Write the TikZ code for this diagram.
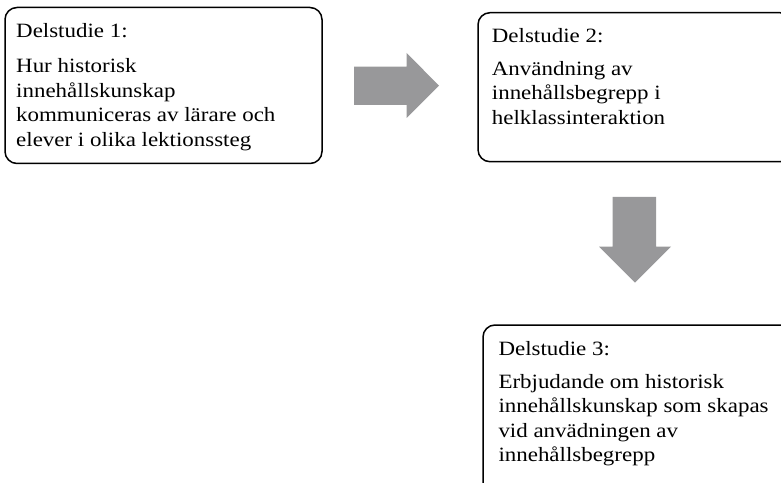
\documentclass[tikz,border=0pt]{standalone}
\usepackage{fontspec}
\setmainfont[FakeStretch=1.13]{Liberation Serif}
\definecolor{arrowgray}{RGB}{152,152,154}
\tikzset{
  studybox/.style={draw=black, line width=1.5bp, rounded corners=12bp},
  txt/.style={anchor=base west, inner sep=0pt, font=\fontsize{20.3bp}{24.5bp}\selectfont},
  blockarrow/.style={fill=arrowgray, draw=none}
}
\newcommand{\bodylines}[1]{\renewcommand{\arraystretch}{1}\begin{tabular}[t]{@{}l@{}}#1\end{tabular}}
\begin{document}
\begin{tikzpicture}[x=1bp,y=-1bp]
\useasboundingbox (0,0) rectangle (781,483);
\clip (0,0) rectangle (781,483);
% boxes
\draw[studybox] (5,7.5) rectangle (322,163.5);
\draw[studybox] (478,12.7) rectangle (792,161.7);
\draw[studybox] (483,325) rectangle (792,500);
% box 1
\node[txt] (h1) at (16,37.3) {Delstudie 1:};
\node[txt] (t1) at (16,72.7) {\bodylines{Hur historisk\\innehållskunskap\\kommuniceras av lärare och\\elever i olika lektionssteg}};
% box 2
\node[txt] (h2) at (491.7,42.3) {Delstudie 2:};
\node[txt] (t2) at (491.7,75.3) {\bodylines{Användning av\\innehållsbegrepp i\\helklassinteraktion}};
% box 3
\node[txt] (h3) at (498.3,355) {Delstudie 3:};
\node[txt] (t3) at (498.3,388) {\bodylines{Erbjudande om historisk\\innehållskunskap som skapas\\vid anvädningen av\\innehållsbegrepp}};
% arrows
\fill[blockarrow] (354,66.7) -- (406.7,66.7) -- (406.7,53) -- (439,85.7) -- (406.7,118) -- (406.7,105) -- (354,105) -- cycle;
\fill[blockarrow] (612.7,197) -- (656,197) -- (656,246.7) -- (671,246.7) -- (635,282.7) -- (599,246.7) -- (612.7,246.7) -- cycle;
\end{tikzpicture}
\end{document}
